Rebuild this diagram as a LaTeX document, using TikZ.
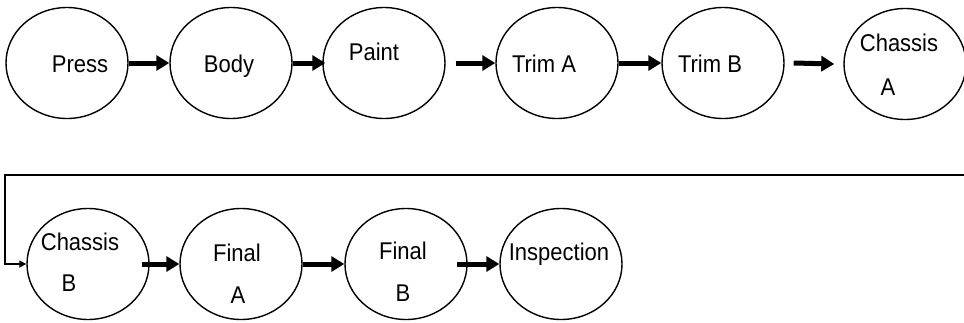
\documentclass[tikz,border=0pt]{standalone}
\usepackage{fontspec}
\usepackage{graphicx}
\setmainfont{Liberation Sans}
\usetikzlibrary{shapes.geometric,arrows.meta}

% slightly tall lettering for the station names
\newcommand{\stname}[1]{\scalebox{1}[1.1]{#1}}

\tikzset{
  station/.style={draw=black, line width=1.4pt, ellipse, inner sep=0pt,
                  minimum width=122pt, minimum height=111pt},
  txt/.style={anchor=base, inner sep=0pt, font=\fontsize{22}{24}\selectfont},
  flow/.style={line width=5pt, -{Triangle[length=13pt,width=15pt]}},
  feedback/.style={line width=1.6pt, -{Triangle[length=7pt,width=7pt]}}
}

\begin{document}
\begin{tikzpicture}[x=1pt, y=-1pt]
\useasboundingbox (0,0) rectangle (964,322);

% first row of stations
\node[station] (press) at (67,63)  {};
\node[station] (body)  at (231,63) {};
\node[station] (paint) at (384,63) {};
\node[station] (trima) at (557,63) {};
\node[station] (trimb) at (723,63) {};
\node[station] (chasa) at (905,64) {};

% second row of stations
\node[station] (chasb) at (88,264)  {};
\node[station] (fina)  at (241,264) {};
\node[station] (finb)  at (406,264) {};
\node[station] (insp)  at (561,264) {};

% station names
\node[txt] (t-press) at (80,72)  {\stname{Press}};
\node[txt] (t-body)  at (229,72) {\stname{Body}};
\node[txt] (t-paint) at (374,60) {\stname{Paint}};
\node[txt] (t-trima) at (544,72) {\stname{Trim A}};
\node[txt] (t-trimb) at (710,72) {\stname{Trim B}};
\node[txt] (t-chasa1) at (899,51) {\stname{Chassis}};
\node[txt] (t-chasa2) at (888,95) {\stname{A}};
\node[txt] (t-chasb1) at (80,250) {\stname{Chassis}};
\node[txt] (t-chasb2) at (69,291) {\stname{B}};
\node[txt] (t-fina1) at (237,261) {\stname{Final}};
\node[txt] (t-fina2) at (238,303) {\stname{A}};
\node[txt] (t-finb1) at (403,259) {\stname{Final}};
\node[txt] (t-finb2) at (403,301) {\stname{B}};
\node[txt] (t-insp)  at (559,260) {\stname{Inspection}};

% flow between stations
\draw[flow] (press.east) -- (body.west);
\draw[flow] (body.east) -- ([xshift=3pt]paint.west);
\draw[flow] ([xshift=10pt]paint.east) -- (trima.west);
\draw[flow] (trima.east) -- (trimb.west);
\draw[flow] ([xshift=9pt]trimb.east) -- ([xshift=-9pt]chasa.west);
\draw[flow] ([xshift=-8pt]chasb.east) -- (fina.west);
\draw[flow] (fina.east) -- (finb.west);
\draw[flow] ([xshift=-11pt]finb.east) -- (insp.west);

% return line from the end of the first row to the second row
\coordinate (fbstart)  at (966,175);
\coordinate (fbcorner) at (5,175);
\draw[feedback] (fbstart) -- (fbcorner) |- (chasb.west);
\end{tikzpicture}
\end{document}
